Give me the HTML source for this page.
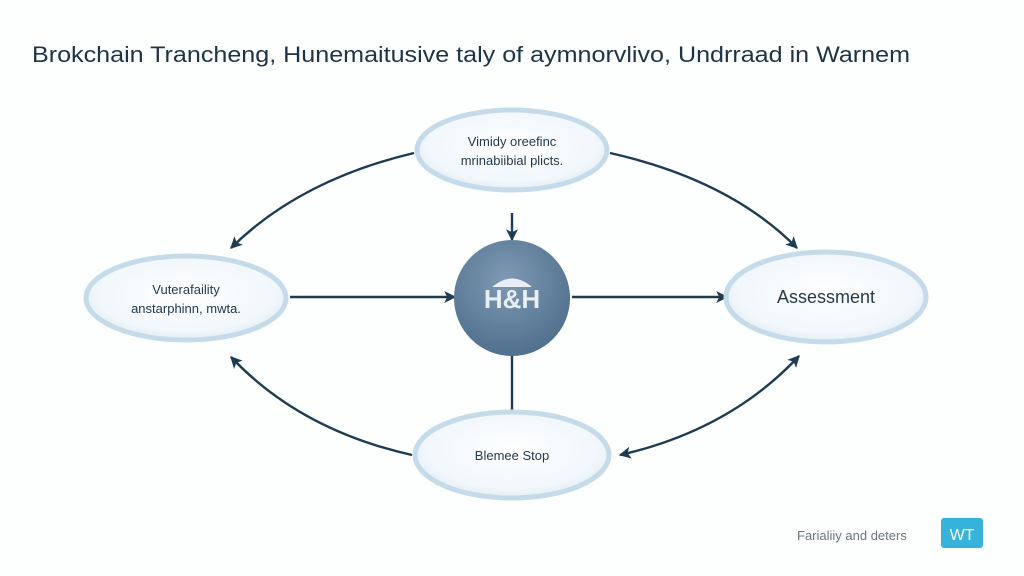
<!DOCTYPE html>
<html><head><meta charset="utf-8"><style>
html,body{margin:0;padding:0;background:#fff;}
svg{display:block;font-family:"Liberation Sans",sans-serif;}
</style></head><body>
<svg width="1024" height="576" viewBox="0 0 1024 576" xmlns="http://www.w3.org/2000/svg">
<defs>
<marker id="ah" viewBox="0 0 10 10" refX="9" refY="5" markerWidth="5" markerHeight="5" orient="auto-start-reverse">
<path d="M0,0 L10,5 L0,10 L2.5,5 Z" fill="#1f3b52"/></marker>
<radialGradient id="eg" cx="50%" cy="45%" r="60%">
<stop offset="0" stop-color="#ffffff"/><stop offset="0.75" stop-color="#f1f7fb"/><stop offset="1" stop-color="#dbe9f3"/></radialGradient>
<radialGradient id="cg" cx="45%" cy="35%" r="70%">
<stop offset="0" stop-color="#7f9ab3"/><stop offset="1" stop-color="#4d6d8b"/></radialGradient>
</defs>
<rect width="1024" height="576" fill="#fdfefe"/>
<text x="32" y="62" font-size="22" fill="#1e3347" textLength="878" lengthAdjust="spacingAndGlyphs">Brokchain Trancheng, Hunemaitusive taly of aymnorvlivo, Undrraad in Warnem</text>
<g fill="none" stroke="#1f3b52" stroke-width="2.4">
<path d="M414,153 Q300,180 231,248" marker-end="url(#ah)"/>
<path d="M610,153 Q730,180 797,248" marker-end="url(#ah)"/>
<path d="M412,455 Q300,430 231,357" marker-end="url(#ah)"/>
<path d="M620,455 Q730,430 799,356" marker-start="url(#ah)" marker-end="url(#ah)"/>
<path d="M290,297 L455,297" marker-end="url(#ah)"/>
<path d="M572,297 L727,297" marker-end="url(#ah)"/>
<path d="M512,213 L512,240" marker-end="url(#ah)"/>
<path d="M512,356 L512,410"/>
</g>
<g stroke="#c5dbea" stroke-width="5" fill="url(#eg)">
<ellipse cx="512" cy="150" rx="95" ry="40"/>
<ellipse cx="186" cy="298" rx="100" ry="42"/>
<ellipse cx="826" cy="297" rx="100" ry="45"/>
<ellipse cx="512" cy="455" rx="97" ry="43"/>
</g>
<circle cx="512" cy="298" r="58" fill="url(#cg)"/>
<text x="512" y="308" font-size="26" font-weight="bold" fill="#e8eef4" text-anchor="middle">H&amp;H</text>
<path d="M492,287 Q512,270 532,287 Z" fill="#e8eef4"/>
<g font-size="13" fill="#243a4f" text-anchor="middle">
<text x="512" y="146">Vimidy oreefinc</text>
<text x="512" y="165">mrinabiibial plicts.</text>
<text x="186" y="294">Vuterafaility</text>
<text x="186" y="313">anstarphinn, mwta.</text>
<text x="826" y="303" font-size="18">Assessment</text>
<text x="512" y="460">Blemee Stop</text>
</g>
<text x="797" y="540" font-size="13" fill="#6a7580">Farialiiy and deters</text>
<rect x="941" y="518" width="42" height="30" rx="3" fill="#35b3da"/>
<text x="962" y="540" font-size="16" fill="#fff" text-anchor="middle">WT</text>
</svg>
</body></html>
